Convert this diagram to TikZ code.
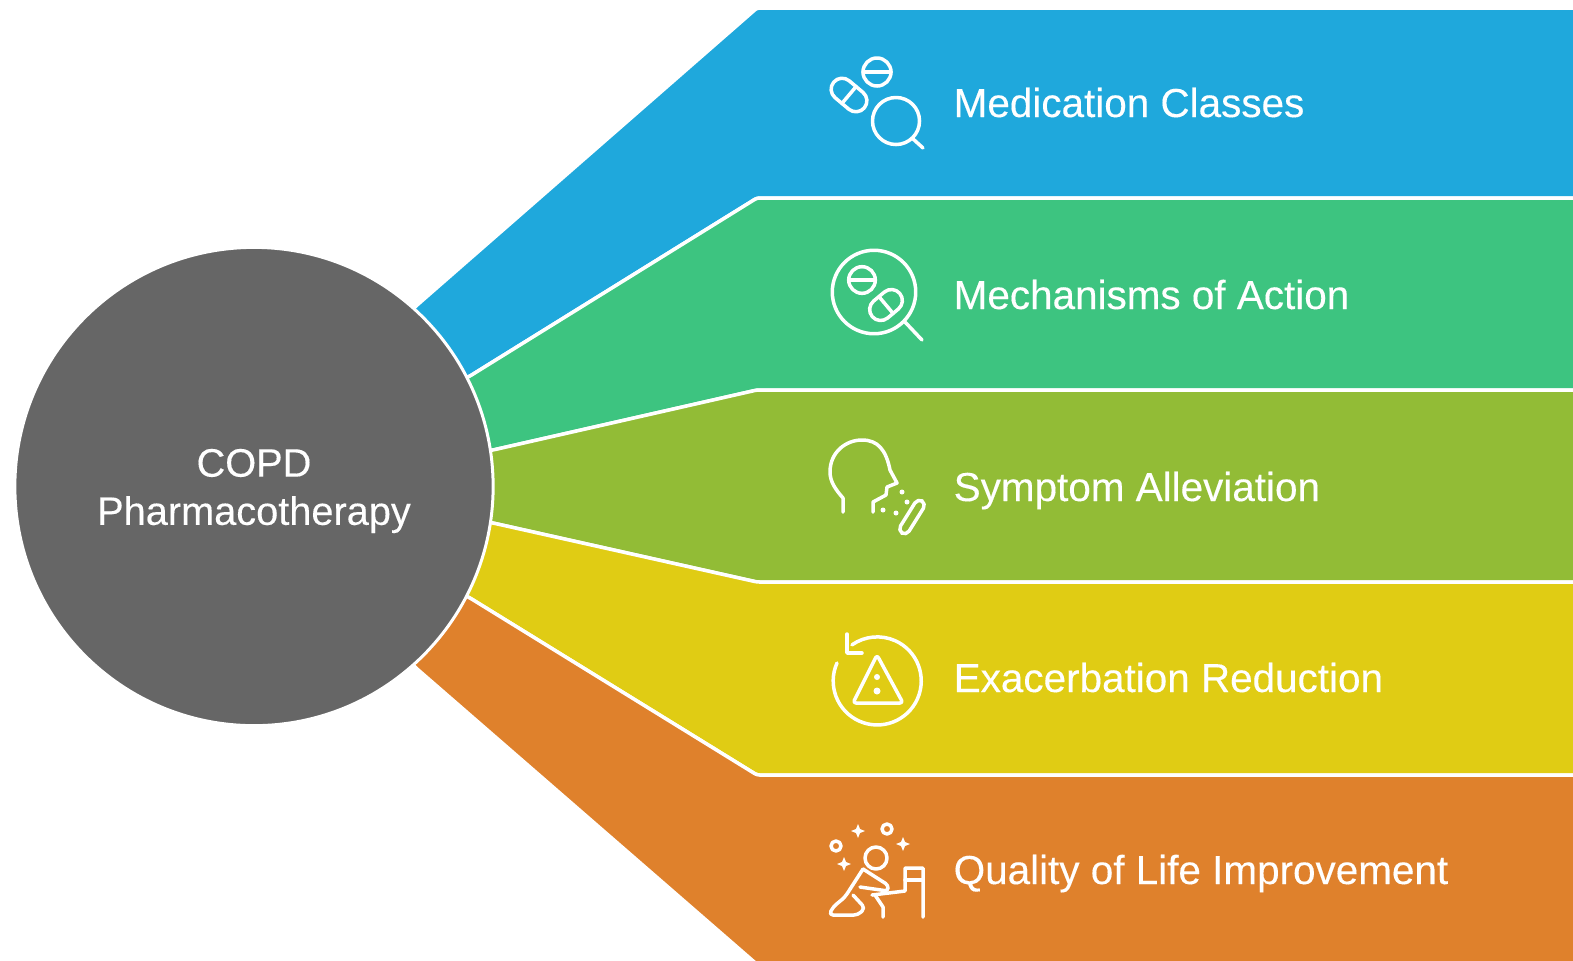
\documentclass[tikz,border=0pt]{standalone}
\usepackage{fontspec}
\setmainfont[AutoFakeBold=0.25]{Liberation Sans}

\definecolor{bandblue}{HTML}{1FA8DC}
\definecolor{bandgreen}{HTML}{3DC480}
\definecolor{bandolive}{HTML}{92BC36}
\definecolor{bandyellow}{HTML}{E0CC14}
\definecolor{bandorange}{HTML}{DF812C}
\definecolor{hubgray}{HTML}{666666}

\tikzset{
	band/.style={draw=white, line width=0.035cm, rounded corners=0.025cm, line join=round},
	hubnode/.style={circle, draw=white, line width=0.03cm, fill=hubgray, minimum size=4.78cm, inner sep=0pt},
	hublabel/.style={align=center, inner sep=0pt, text=white, font=\fontsize{11.3}{13.6}\selectfont\bfseries},
	bandlabel/.style={anchor=base west, inner sep=0pt, text=white, font=\fontsize{11.5}{13.8}\selectfont\bfseries},
	icon/.style={draw=white, line width=0.035cm, line cap=round, line join=round},
	icondot/.style={fill=white, draw=none},
}

\begin{document}
\begin{tikzpicture}[x=0.01cm, y=-0.01cm]
	\useasboundingbox (0,0) rectangle (1573,960);
	\fill[white] (0,0) rectangle (1573,960);
	\coordinate (center) at (254,486.5);

	% bands
	\draw[band, fill=bandblue] (center) -- (416,306) -- (757,8) -- (1590,8) -- (1590,198) -- (757,198) -- (470,376) -- cycle;
	\draw[band, fill=bandgreen] (center) -- (470,376) -- (757,198) -- (1590,198) -- (1590,390) -- (757,390) -- (493,450) -- cycle;
	\draw[band, fill=bandolive] (center) -- (493,450) -- (757,390) -- (1590,390) -- (1590,582) -- (757,582) -- (493,523) -- cycle;
	\draw[band, fill=bandyellow] (center) -- (493,523) -- (757,582) -- (1590,582) -- (1590,775) -- (757,775) -- (470,598) -- cycle;
	\draw[band, fill=bandorange] (center) -- (470,598) -- (757,775) -- (1590,775) -- (1590,980) -- (775,980) -- (416,668) -- cycle;

	\node[hubnode] (hub) at (center) {};
	\node[hublabel] (hubtext) at (254,491) {COPD\\[0.1pt]Pharmacotherapy};

	\foreach \name/\y/\txt in {classes/117/Medication Classes, action/309/Mechanisms of Action, symptom/501/Symptom Alleviation, reduction/692/Exacerbation Reduction, quality/884/Quality of Life Improvement} {
		\node[bandlabel] (\name) at (953,\y) {\txt};
	}

	% medication classes icon
	\draw[icon] (877,72) circle (0.14cm);
	\draw[icon] (863,72) -- (891,72);
	\draw[icon, rounded corners=0.11cm, rotate around={-40:(849,95)}] (829,84) rectangle (869,106);
	\draw[icon, rotate around={-40:(849,95)}] (849,84) -- (849,106);
	\draw[icon] (896,121) circle (0.235cm);
	\draw[icon] (912,138) -- (923,148);

	% mechanisms icon
	\draw[icon] (874,292) circle (0.417cm);
	\draw[icon] (905,322) -- (922,340);
	\draw[icon] (862,280) circle (0.133cm);
	\draw[icon] (849,280) -- (875,280);
	\draw[icon, rounded corners=0.11cm, rotate around={40:(886,305)}] (868,294) rectangle (904,316);
	\draw[icon, rotate around={40:(886,305)}] (886,294) -- (886,316);

	% symptom icon
	\draw[icon] (843,512) -- (843,498) .. controls (836,490) and (830,482) .. (830,472) .. controls (830,452) and (846,440) .. (862,440) .. controls (878,440) and (886,450) .. (890,470) -- (897,483) -- (887,487) -- (886,495) -- (873,502) -- (873,512);
	\foreach \x/\y in {902/492, 907/502, 883/510, 896/513} {
		\fill[icondot] (\x,\y) circle (0.025cm);
	}
	\draw[icon, rounded corners=0.055cm, rotate around={58:(912,517)}] (893,512) rectangle (931,522);

	% reduction icon
	\draw[icon] (837,663) arc[start angle=156, end angle=485, radius=0.44cm];
	\draw[icon] (847,634) -- (847,653) -- (862,653);
	\draw[icon, rounded corners=0.03cm] (877,655) -- (853,703) -- (903,703) -- cycle;
	\fill[icondot] (877,677) circle (0.03cm);
	\fill[icondot] (877,691) circle (0.035cm);

	% quality icon
	\draw[icon] (876,858) circle (0.11cm);
	\draw[icon] (887,829) circle (0.05cm);
	\draw[icon] (836,846) circle (0.05cm);
	\foreach \x/\y in {858/831, 903/844, 844/864} {
		\fill[icondot] (\x,\y-7) -- (\x+2,\y-2) -- (\x+7,\y) -- (\x+2,\y+2) -- (\x,\y+7) -- (\x-2,\y+2) -- (\x-7,\y) -- (\x-2,\y-2) -- cycle;
	}
	\draw[icon, rounded corners=0.04cm] (863,869) -- (845,897) -- (833,907) -- (829,915) -- (858,915) -- (865,908) -- (853,895);
	\draw[icon, rounded corners=0.03cm] (863,869) -- (888,885) -- (888,891) -- (860,887);
	\draw[icon] (875,895) -- (883,907) -- (883,917);
	\draw[icon] (872,895) -- (905,891) -- (905,868) -- (923,868) -- (923,917);
	\draw[icon] (905,880) -- (923,880);
\end{tikzpicture}
\end{document}
